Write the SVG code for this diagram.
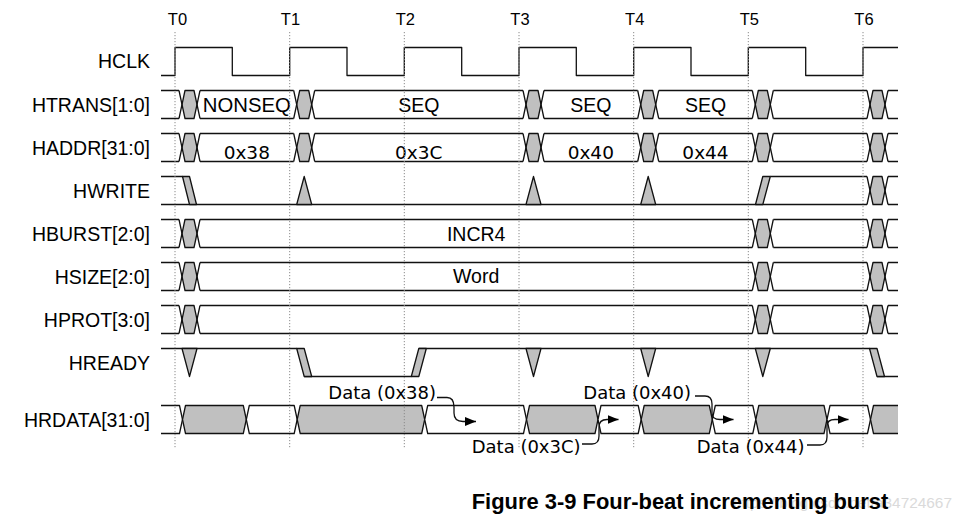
<svg xmlns="http://www.w3.org/2000/svg" width="978" height="528" viewBox="0 0 978 528">
<style>
.w{fill:none;stroke:#111;stroke-width:1.3;stroke-linejoin:round}
.g{fill:#c0c0c0;stroke:#111;stroke-width:1.3;stroke-linejoin:round}
.wf{fill:#fff;stroke:#111;stroke-width:1.3;stroke-linejoin:round}
.dot{stroke:#8a8a8a;stroke-width:1;stroke-dasharray:1.2 1.8}
.lbl{font-family:"Liberation Sans",Arial,sans-serif;font-size:19.5px;fill:#000;text-anchor:end}
.in{font-family:"Liberation Sans",Arial,sans-serif;font-size:19.5px;fill:#000;text-anchor:middle}
.tk{font-family:"Liberation Sans",Arial,sans-serif;font-size:16.5px;fill:#000;text-anchor:middle}
.dj{font-family:"DejaVu Sans",sans-serif;font-size:18px;fill:#000}
.djm{font-family:"DejaVu Sans",sans-serif;font-size:18.5px;fill:#000;text-anchor:middle}
.cap{font-family:"Liberation Sans",Arial,sans-serif;font-size:21.5px;font-weight:bold;fill:#000}
.wm{font-family:"Liberation Sans",Arial,sans-serif;font-size:15px;fill:#dadada}
.ar{fill:none;stroke:#111;stroke-width:1.3;marker-end:url(#ah)}
</style>
<defs>
<marker id="ah" markerUnits="userSpaceOnUse" markerWidth="12" markerHeight="10" refX="11" refY="5" orient="auto"><path d="M0,0.5 L11,5 L0,9.5 z" fill="#000"/></marker>
<g id="bx"><polygon class="g" points="3,14 6,0 15,0 18,14 15,28 6,28"/><path class="w" d="M0,0 L3,14 L0,28 M21,0 L18,14 L21,28"/></g>
<g id="busA">
<path class="w" d="M161,0 H179 M200,0 H293.7 M314.7,0 H523 M544,0 H637.7 M658.7,0 H752.3 M773.3,0 H867 M888,0 H898 M161,28 H179 M200,28 H293.7 M314.7,28 H523 M544,28 H637.7 M658.7,28 H752.3 M773.3,28 H867 M888,28 H898"/>
<use href="#bx" x="179"/><use href="#bx" x="293.7"/><use href="#bx" x="523"/><use href="#bx" x="637.7"/><use href="#bx" x="752.3"/><use href="#bx" x="867"/>
</g>
<g id="busB">
<path class="w" d="M161,0 H179 M200,0 H752.3 M773.3,0 H867 M888,0 H898 M161,28 H179 M200,28 H752.3 M773.3,28 H867 M888,28 H898"/>
<use href="#bx" x="179"/><use href="#bx" x="752.3"/><use href="#bx" x="867"/>
</g>
</defs>
<rect width="978" height="528" fill="#fff"/>

<g id="ticks">
<text class="tk" x="177.5" y="25">T0</text>
<text class="tk" x="290.5" y="25">T1</text>
<text class="tk" x="405.3" y="25">T2</text>
<text class="tk" x="520" y="25">T3</text>
<text class="tk" x="634.7" y="25">T4</text>
<text class="tk" x="749.3" y="25">T5</text>
<text class="tk" x="864" y="25">T6</text>
</g>

<g id="labels">
<text class="lbl" x="150" y="67.5">HCLK</text>
<text class="lbl" x="150" y="111.5">HTRANS[1:0]</text>
<text class="lbl" x="150" y="154.5">HADDR[31:0]</text>
<text class="lbl" x="150" y="197.5">HWRITE</text>
<text class="lbl" x="150" y="240.5">HBURST[2:0]</text>
<text class="lbl" x="150" y="283.5">HSIZE[2:0]</text>
<text class="lbl" x="150" y="326.5">HPROT[3:0]</text>
<text class="lbl" x="150" y="369.5">HREADY</text>
<text class="lbl" x="150" y="426.5">HRDATA[31:0]</text>
</g>

<g id="hclk">
<path class="w" d="M161,75.5 H175 V47.5 H232.3 V75.5 H289.7 V47.5 H347 V75.5 H404.3 V47.5 H461.7 V75.5 H519 V47.5 H576.3 V75.5 H633.7 V47.5 H691 V75.5 H748.3 V47.5 H805.7 V75.5 H863 V47.5 H898"/>
</g>

<g id="htrans">
<use href="#busA" y="90.5"/>
<text class="in" x="246.8" y="111.5" textLength="88" lengthAdjust="spacingAndGlyphs">NONSEQ</text>
<text class="in" x="418.8" y="111.5">SEQ</text>
<text class="in" x="590.8" y="111.5">SEQ</text>
<text class="in" x="705.5" y="111.5">SEQ</text>
</g>

<g id="haddr">
<use href="#busA" y="133.5"/>
<text class="djm" x="246.8" y="158.5">0x38</text>
<text class="djm" x="418.8" y="158.5">0x3C</text>
<text class="djm" x="590.8" y="158.5">0x40</text>
<text class="djm" x="705.5" y="158.5">0x44</text>
</g>

<g id="hwrite" transform="translate(0,176.5)">
<path class="w" d="M161,0 H182.5 M161,28 H867 M770.3,0 H867 M888,0 H898 M888,28 H898"/>
<polygon class="g" points="182.5,0 189.5,0 196.5,28 189.5,28"/>
<polygon class="g" points="296.7,28 304.2,0 311.7,28"/>
<polygon class="g" points="526,28 533.5,0 541,28"/>
<polygon class="g" points="640.7,28 648.2,0 655.7,28"/>
<polygon class="g" points="755.5,28 762.8,0 770.3,0 762.8,28"/>
<use href="#bx" x="867"/>
</g>

<g id="hburst">
<use href="#busB" y="219.5"/>
<text class="in" x="476.2" y="240.5">INCR4</text>
</g>

<g id="hsize">
<use href="#busB" y="262.5"/>
<text class="in" x="476.2" y="283">Word</text>
</g>

<g id="hprot">
<use href="#busB" y="305.5"/>
</g>

<g id="hready" transform="translate(0,348.5)">
<path class="w" d="M161,0 H296.7 M304.2,28 H411.3 M418.8,0 H869.5 M877,28 H898"/>
<polygon class="g" points="182,0 189.5,28 197,0"/>
<polygon class="g" points="296.7,0 304.2,0 311.7,28 304.2,28"/>
<polygon class="g" points="411.3,28 418.8,0 426.3,0 418.8,28"/>
<polygon class="g" points="526,0 533.5,28 541,0"/>
<polygon class="g" points="640.7,0 648.2,28 655.7,0"/>
<polygon class="g" points="755.3,0 762.8,28 770.3,0"/>
<polygon class="g" points="869.5,0 877,0 884.5,28 877,28"/>
</g>

<g id="hrdata">
<path class="w" d="M161,405.5 H179.5 L182.5,419.5 L179.5,433.5 H161"/>
<polygon class="g" points="182.5,419.5 185.5,405.5 243.3,405.5 246.3,419.5 243.3,433.5 185.5,433.5"/>
<polygon class="wf" points="246.3,419.5 249.3,405.5 294.2,405.5 297.2,419.5 294.2,433.5 249.3,433.5"/>
<polygon class="g" points="297.2,419.5 300.2,405.5 421.7,405.5 424.7,419.5 421.7,433.5 300.2,433.5"/>
<polygon class="wf" points="424.7,419.5 427.7,405.5 523.5,405.5 526.5,419.5 523.5,433.5 427.7,433.5"/>
<polygon class="g" points="526.5,419.5 529.5,405.5 595,405.5 598,419.5 595,433.5 529.5,433.5"/>
<polygon class="wf" points="598,419.5 601,405.5 638.2,405.5 641.2,419.5 638.2,433.5 601,433.5"/>
<polygon class="g" points="641.2,419.5 644.2,405.5 709.3,405.5 712.3,419.5 709.3,433.5 644.2,433.5"/>
<polygon class="wf" points="712.3,419.5 715.3,405.5 752.8,405.5 755.8,419.5 752.8,433.5 715.3,433.5"/>
<polygon class="g" points="755.8,419.5 758.8,405.5 824,405.5 827,419.5 824,433.5 758.8,433.5"/>
<polygon class="wf" points="827,419.5 830,405.5 867.5,405.5 870.5,419.5 867.5,433.5 830,433.5"/>
<polygon points="870.5,419.5 873.5,405.5 898,405.5 898,433.5 873.5,433.5" fill="#c0c0c0"/>
<path class="w" d="M898,405.5 H873.5 L870.5,419.5 L873.5,433.5 H898"/>
</g>

<g id="gridlines">
<line class="dot" x1="175" y1="32" x2="175" y2="448"/>
<line class="dot" x1="289.7" y1="32" x2="289.7" y2="448"/>
<line class="dot" x1="404.3" y1="32" x2="404.3" y2="448"/>
<line class="dot" x1="519" y1="32" x2="519" y2="448"/>
<line class="dot" x1="633.7" y1="32" x2="633.7" y2="448"/>
<line class="dot" x1="748.3" y1="32" x2="748.3" y2="448"/>
<line class="dot" x1="863" y1="32" x2="863" y2="448"/>
</g>

<g id="connectors">
<path class="ar" d="M437,397.5 L447,397.5 C452,397.5 454,401 454,407 L454,413 C454,419 457,421.5 463,421.5 L476,421.5"/>
<path class="ar" d="M582,444 L592,444 C597,444 599,441 599,436 L599,427 C599,422 602,419.5 607,419.5 L618.5,419.5"/>
<path class="ar" d="M695,396 L705,396 C710,396 712,399 712,404 L712,413 C712,418 715,419.5 720,419.5 L733.5,419.5"/>
<path class="ar" d="M807,445 L820,445 C825,445 827,442 827,437 L827,426 C827,421 830,419.5 835,419.5 L848.5,419.5"/>
</g>

<g id="data-labels">
<text class="dj" x="328.3" y="399">Data (0x38)</text>
<text class="dj" x="471.7" y="453">Data (0x3C)</text>
<text class="dj" x="583.3" y="399">Data (0x40)</text>
<text class="dj" x="696.7" y="453">Data (0x44)</text>
</g>

<text class="wm" x="733" y="508" textLength="219" lengthAdjust="spacingAndGlyphs">https://blog.csdn.net/a34724667</text>
<text class="cap" x="471.7" y="508.5" textLength="416.5" lengthAdjust="spacingAndGlyphs">Figure 3-9 Four-beat incrementing burst</text>
</svg>
